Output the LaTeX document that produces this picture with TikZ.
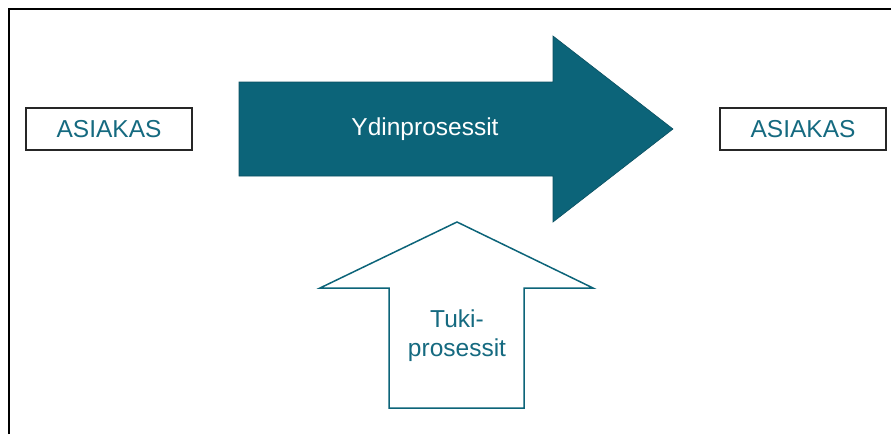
\documentclass[tikz,border=0pt]{standalone}
\usepackage{fontspec}
\setmainfont{Liberation Sans}
\definecolor{teal}{HTML}{0C6479}
\definecolor{tealtext}{HTML}{156A80}
\begin{document}
\begin{tikzpicture}[x=1pt,y=-1pt,
  custbox/.style={draw=black!85,line width=1.3pt,minimum width=166pt,minimum height=42pt,
    inner sep=0pt,font=\fontsize{24.5}{29}\selectfont,text=tealtext},
  label/.style={font=\fontsize{24.5}{29}\selectfont,align=center,inner sep=0pt}]
\useasboundingbox (0,0) rectangle (891,434);
% frame: only the left and top edges lie inside the page
\draw[line width=2.4pt,black] (9,434) -- (9,9) -- (891,9);
% customers
\node[custbox] (left) at (109,129) {ASIAKAS};
\node[custbox] (right) at (803,129) {ASIAKAS};
% core process arrow
\fill[teal,draw=teal!80!black,line width=0.6pt]
  (239,82) -- (553,82) -- (553,36) -- (673,129) -- (553,222) -- (553,176) -- (239,176) -- cycle;
\node[label,text=white] (core) at (425,129) {Ydinprosessit};
% support process arrow
\draw[teal,line width=1.5pt,fill=white]
  (389,408) -- (389,288) -- (320,288) -- (457,222) -- (593,288) -- (524,288) -- (524,408) -- cycle;
\node[label,text=tealtext] (support) at (457,336) {Tuki-\\prosessit};
\end{tikzpicture}
\end{document}
